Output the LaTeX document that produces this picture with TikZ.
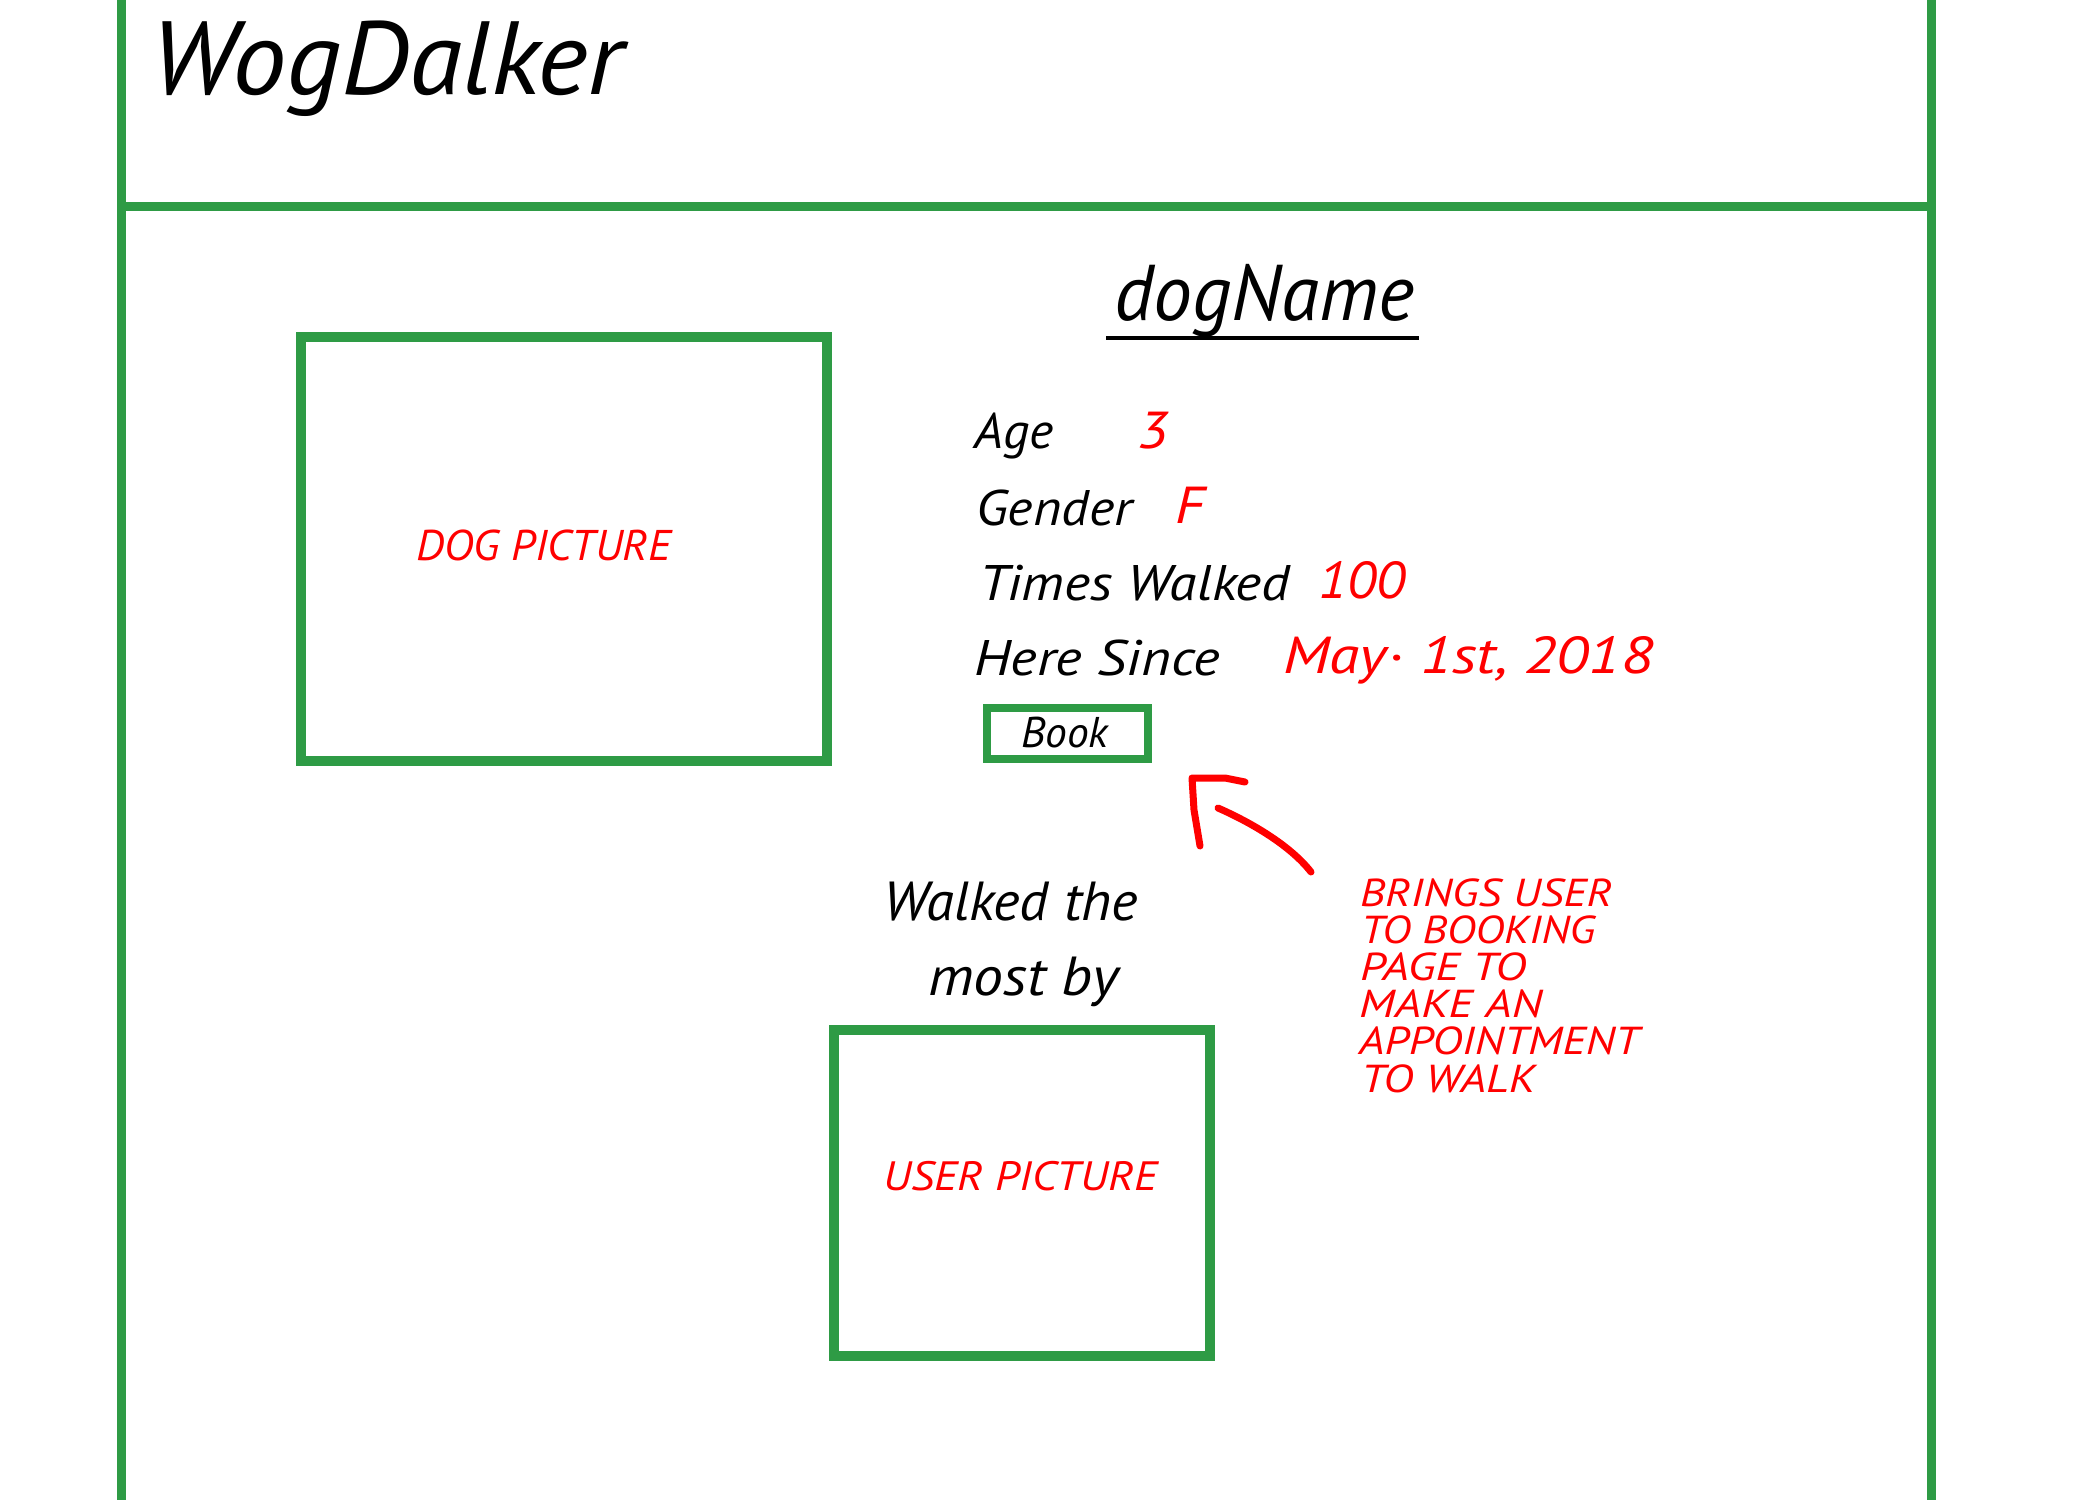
\documentclass[tikz,border=0pt]{standalone}
\usepackage{fontspec}
\usepackage{graphicx}
\newfontfamily\hand{PT Sans}
\definecolor{framegreen}{RGB}{46,155,69}
\newcommand\hw[3]{\fontsize{#1}{#1}\selectfont\resizebox{#2pt}{\height}{#3}}
\tikzset{
  hw/.style={anchor=base west, inner sep=0pt, font=\hand\itshape},
  blk/.style={hw, text=black},
  rd/.style={hw, text=red},
  note/.style={rd, text height=28pt, text depth=2pt},
  gline/.style={draw=framegreen, line width=9pt},
  gbox/.style={draw=framegreen, line width=10pt, anchor=north west, inner sep=0pt, outer sep=0pt},
  redstroke/.style={draw=red, line width=7pt, line cap=round, line join=round}
}
\begin{document}
\begin{tikzpicture}[x=1pt,y=-1pt]
\useasboundingbox[fill=white] (0,0) rectangle (2100,1500);
% frame
\coordinate (ftl) at (121,0);
\coordinate (fbl) at (121,1500);
\coordinate (ftr) at (1931,0);
\coordinate (fbr) at (1931,1500);
\coordinate (hl) at (121,206);
\coordinate (hr) at (1931,206);
\draw[gline] (ftl) -- (fbl);
\draw[gline] (ftr) -- (fbr);
\draw[gline] (hl) -- (hr);
% title
\node[blk] (title) at (150,94) {\hw{104}{473}{WogDalker}};
% dog picture
\node[gbox, minimum width=526pt, minimum height=424pt] (dogbox) at (301,337) {};
\node[rd] (dogtxt) at (416,560) {\hw{43}{255}{DOG PICTURE}};
% dog name
\node[blk] (dogname) at (1114,320) {\hw{79}{300}{dogName}};
\coordinate (ul1) at (1106,338);
\coordinate (ul2) at (1419,338);
\draw[line width=4pt] (ul1) -- (ul2);
% details
\node[blk] (age) at (974,448) {\hw{50}{79}{Age}};
\node[rd] (agev) at (1137,448) {\hw{52}{31}{3}};
\node[blk] (gender) at (976,525) {\hw{50}{156}{Gender}};
\node[rd] (genv) at (1175,523) {\hw{52}{29}{F}};
\node[blk] (times) at (979,600) {\hw{50}{311}{Times Walked}};
\node[rd] (timesv) at (1318,598) {\hw{52}{87}{100}};
\node[blk] (since) at (974,675) {\hw{50}{246}{Here Since}};
\node[rd] (sincev) at (1283,673) {\hw{52}{370}{May· 1st, 2018}};
% book button
\node[draw=framegreen, line width=8pt, minimum width=161pt, minimum height=51pt, anchor=north west, inner sep=0pt, outer sep=0pt] (bookbox) at (987,708) {};
\node[blk] (book) at (1021,747) {\hw{43}{87}{Book}};
% arrow mark
\coordinate (a1) at (1200,846);
\coordinate (a2) at (1194,810);
\coordinate (a3) at (1192,778);
\coordinate (a4) at (1225,778);
\coordinate (a5) at (1245,782);
\coordinate (s1) at (1218,808);
\coordinate (s2) at (1311,872);
\draw[redstroke] (a1) -- (a2) -- (a3) -- (a4) -- (a5);
\draw[redstroke] (s1) .. controls (1250,822) and (1290,845) .. (s2);
% annotation
\node[note] (n1) at (1360,906) {\hw{39}{252}{BRINGS USER}};
\node[note] (n2) at (1361,943) {\hw{39}{234}{TO BOOKING}};
\node[note] (n3) at (1360,980) {\hw{39}{166}{PAGE TO}};
\node[note] (n4) at (1359,1017) {\hw{39}{183}{MAKE AN}};
\node[note] (n5) at (1359,1054) {\hw{39}{280}{APPOINTMENT}};
\node[note] (n6) at (1361,1092) {\hw{39}{174}{TO WALK}};
% walked the most by
\node[blk] (w1) at (883,920) {\hw{55}{255}{Walked the}};
\node[blk] (w2) at (928,995) {\hw{55}{190}{most by}};
% user picture
\node[gbox, minimum width=376pt, minimum height=326pt] (userbox) at (834,1030) {};
\node[rd] (usertxt) at (883,1190) {\hw{41}{274}{USER PICTURE}};
\end{tikzpicture}
\end{document}
